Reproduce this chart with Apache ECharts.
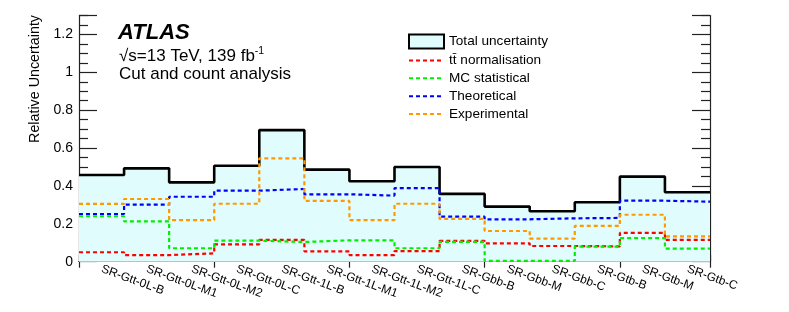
<!DOCTYPE html>
<html>
<head>
<meta charset="utf-8">
<script src="https://cdn.jsdelivr.net/npm/echarts@6/dist/echarts.min.js"></script>
<style>
html,body{margin:0;padding:0;background:#fff;}
#chart{width:789px;height:312px;}
</style>
</head>
<body>
<div id="chart"></div>
<script>
const categories = ['SR-Gtt-0L-B','SR-Gtt-0L-M1','SR-Gtt-0L-M2','SR-Gtt-0L-C','SR-Gtt-1L-B','SR-Gtt-1L-M1','SR-Gtt-1L-M2','SR-Gtt-1L-C','SR-Gbb-B','SR-Gbb-M','SR-Gbb-C','SR-Gtb-B','SR-Gtb-M','SR-Gtb-C'];
const total        = [0.458,0.493,0.419,0.507,0.695,0.486,0.425,0.500,0.358,0.291,0.266,0.314,0.449,0.367];
const ttbarNorm    = [0.050,0.035,0.044,0.092,0.115,0.055,0.035,0.056,0.110,0.097,0.083,0.081,0.152,0.115];
const mcStat       = [0.240,0.213,0.071,0.111,0.104,0.113,0.113,0.071,0.105,0.004,0.004,0.080,0.124,0.069];
const theoretical  = [0.252,0.301,0.343,0.375,0.384,0.356,0.349,0.389,0.238,0.224,0.229,0.231,0.322,0.317];
const experimental = [0.305,0.331,0.220,0.306,0.546,0.321,0.220,0.306,0.226,0.162,0.122,0.189,0.248,0.134];
const seriesNames = ['Total uncertainty','tt\u0304 normalisation','MC statistical','Theoretical','Experimental'];
const yTicks = {min: 0, max: 1.3, interval: 0.2};

function toSteps(vals){
  const pts = vals.map((v,i)=>[i,v]);
  pts.push([vals.length, vals[vals.length-1]]);
  return pts;
}

const FONT = '"Liberation Sans", Arial, Helvetica, sans-serif';
const chart = echarts.init(document.getElementById('chart'), null, {renderer:'canvas'});

function dashed(name, vals, color){
  return {
    name: name, type: 'line', xAxisIndex: 2, yAxisIndex: 0,
    data: toSteps(vals), step: 'end', symbol: 'none', silent: true,
    lineStyle: {color: color, width: 2.2, type: [4,3]},
    itemStyle: {color: color},
    z: 3
  };
}
const hiddenSymbol = {color: 'rgba(0,0,0,0)', borderWidth: 0, opacity: 0};

const option = {
  animation: false,
  textStyle: {fontFamily: FONT},
  grid: {left: 79, right: 79, top: 15.5, bottom: 50.3, containLabel: false},
  legend: {
    orient: 'vertical', left: 408, top: 33.5, itemWidth: 35, itemHeight: 14, itemGap: 3.9,
    padding: 0,
    textStyle: {fontFamily: FONT, fontSize: 13.6, color: '#000'},
    data: [
      {name: seriesNames[0], icon: 'rect', itemStyle: {color: '#e0fcfc', borderColor: '#000', borderWidth: 2}},
      {name: seriesNames[1], itemStyle: hiddenSymbol},
      {name: seriesNames[2], itemStyle: hiddenSymbol},
      {name: seriesNames[3], itemStyle: hiddenSymbol},
      {name: seriesNames[4], itemStyle: hiddenSymbol}
    ]
  },
  xAxis: [
    {
      type: 'category', data: categories, boundaryGap: true, position: 'bottom',
      axisLine: {show: true, lineStyle: {color: '#222', width: 1.2}},
      axisTick: {show: true, inside: true, length: 7, lineStyle: {color: '#222', width: 1.2}},
      axisLabel: {rotate: -20, margin: 7, fontSize: 12, color: '#000', fontFamily: FONT, interval: 0},
      splitLine: {show: false}
    },
    {
      type: 'category', data: categories, boundaryGap: true, position: 'top',
      axisLine: {show: true, lineStyle: {color: '#222', width: 1.2}},
      axisTick: {show: true, inside: true, length: 6, lineStyle: {color: '#222', width: 1.2}},
      axisLabel: {show: false}, splitLine: {show: false}
    },
    {type: 'value', min: 0, max: categories.length, show: false}
  ],
  yAxis: [
    {
      type: 'value', min: yTicks.min, max: yTicks.max, interval: yTicks.interval, position: 'left',
      axisLine: {show: true, lineStyle: {color: '#222', width: 1.2}},
      axisTick: {show: true, inside: true, length: 18, lineStyle: {color: '#222', width: 1.2}},
      minorTick: {show: true, splitNumber: 4, length: 9, lineStyle: {color: '#222', width: 1.2}},
      axisLabel: {fontSize: 14, color: '#000', margin: 6, showMaxLabel: false, fontFamily: FONT},
      splitLine: {show: false}, minorSplitLine: {show: false}
    },
    {
      type: 'value', min: yTicks.min, max: yTicks.max, interval: yTicks.interval, position: 'right',
      axisLine: {show: true, lineStyle: {color: '#222', width: 1.2}},
      axisTick: {show: true, inside: true, length: 18, lineStyle: {color: '#222', width: 1.2}},
      minorTick: {show: true, splitNumber: 4, length: 9, lineStyle: {color: '#222', width: 1.2}},
      axisLabel: {show: false}, splitLine: {show: false}
    }
  ],
  series: [
    {
      name: seriesNames[0], type: 'line', xAxisIndex: 2, yAxisIndex: 0,
      data: toSteps(total), step: 'end', symbol: 'none', silent: true,
      lineStyle: {color: '#000', width: 2.6},
      itemStyle: {color: '#000'},
      areaStyle: {color: '#e0fcfc', opacity: 1},
      z: 2
    },
    dashed(seriesNames[1], ttbarNorm, '#ff0000'),
    dashed(seriesNames[2], mcStat, '#00ee00'),
    dashed(seriesNames[3], theoretical, '#0000ff'),
    dashed(seriesNames[4], experimental, '#ff9900')
  ],
  graphic: [
    {type: 'text', x: 35, y: 15, rotation: Math.PI/2,
     style: {text: 'Relative Uncertainty', font: '14.3px ' + FONT, fill: '#000', align: 'right', verticalAlign: 'middle'}},
    {type: 'text', x: 118, y: 33,
     style: {text: 'ATLAS', font: 'italic bold 22px ' + FONT, fill: '#000', align: 'left', verticalAlign: 'middle'}},
    {type: 'text', x: 119, y: 56,
     style: {text: '\u221As=13 TeV, 139 fb{sup|-1}', font: '17px ' + FONT, fill: '#000', align: 'left', verticalAlign: 'middle',
       rich: {sup: {fontSize: 10.5, fontFamily: FONT, verticalAlign: 'top', padding: [0,0,9,0]}}}},
    {type: 'text', x: 119, y: 74,
     style: {text: 'Cut and count analysis', font: '17px ' + FONT, fill: '#000', align: 'left', verticalAlign: 'middle'}}
  ]
};
chart.setOption(option);
</script>
</body>
</html>
